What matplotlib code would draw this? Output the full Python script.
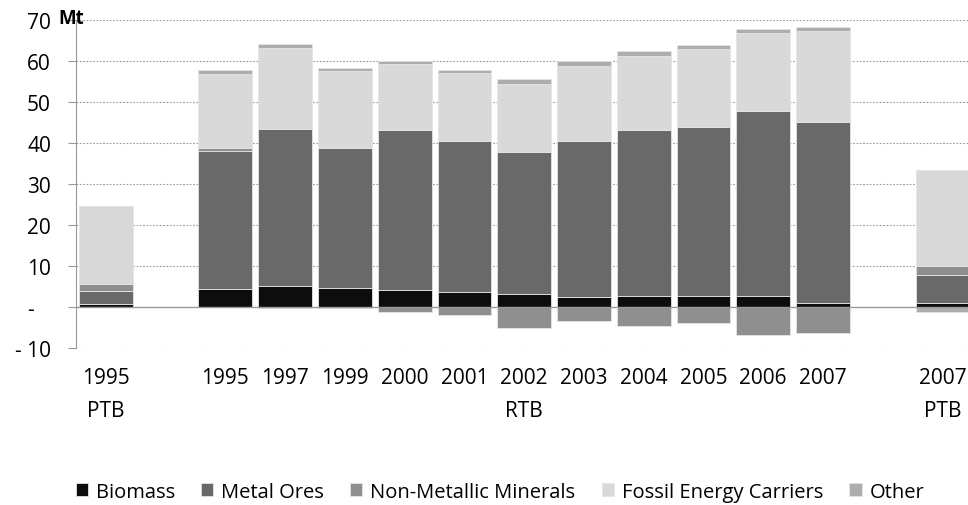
import matplotlib.pyplot as plt
import numpy as np

plt.rcParams['font.family'] = ['Open Sans', 'DejaVu Sans']

# Category layout: PTB 1995, RTB 1995-2007, PTB 2007 (gaps between groups)
positions = [0, 2, 3, 4, 5, 6, 7, 8, 9, 10, 11, 12, 14]
tick_labels = ['1995\nPTB', '1995', '1997', '1999', '2000', '2001', '2002\nRTB',
               '2003', '2004', '2005', '2006', '2007', '2007\nPTB']

series = ['Biomass', 'Metal Ores', 'Non-Metallic Minerals', 'Fossil Energy Carriers', 'Other']
colors = ['#0d0d0d', '#696969', '#8f8f8f', '#d9d9d9', '#adadad']

biomass = [0.7, 4.4, 5.2, 4.6, 4.1, 3.6, 3.1, 2.4, 2.8, 2.7, 2.7, 1.0, 0.9]
metal_ores = [3.1, 33.7, 38.1, 34.3, 39.0, 36.8, 34.8, 38.0, 40.4, 41.3, 45.2, 44.0, 7.0]
non_metallic = [1.8, 0.6, -0.2, -0.2, -1.3, -2.0, -5.1, -3.4, -4.6, -3.9, -6.8, -6.4, 2.2]
fossil = [19.1, 18.1, 19.9, 18.7, 16.1, 16.7, 16.6, 18.3, 18.1, 18.9, 18.9, 22.2, 23.3]
other = [0.0, 0.9, 0.9, 0.8, 0.9, 0.8, 1.0, 1.2, 1.1, 1.1, 1.1, 1.2, -1.3]

data = [biomass, metal_ores, non_metallic, fossil, other]

fig = plt.figure(figsize=(9.68, 5.06), dpi=100)
ax = fig.add_axes([0.0785, 0.3103, 0.926, 0.6482])

pos_bottom = np.zeros(len(positions))
neg_bottom = np.zeros(len(positions))
for name, vals, c in zip(series, data, colors):
    vals = np.array(vals)
    bottom = np.where(vals >= 0, pos_bottom, neg_bottom)
    ax.bar(positions, vals, bottom=bottom, width=0.9, color=c, label=name,
           edgecolor='#e4e4e4', linewidth=0.6, zorder=3)
    pos_bottom += np.where(vals >= 0, vals, 0)
    neg_bottom += np.where(vals < 0, vals, 0)

ax.set_xlim(-0.5, 14.5)
ax.set_ylim(-10, 70)
yt = np.arange(-10, 71, 10)
ax.set_yticks(yt)
ax.set_yticklabels(['- 10', '-   '] + [str(v) for v in yt[2:]], fontsize=15)
for v in yt:
    if v != 0:
        ax.axhline(v, color='#999999', lw=0.8, ls=(0, (1.5, 1.5)), zorder=1)
ax.axhline(0, color='#999999', lw=1.0, zorder=4)

ax.set_xticks(positions)
ax.set_xticklabels(tick_labels, fontsize=15, linespacing=1.72)
ax.tick_params(axis='x', length=0, pad=14)
ax.tick_params(axis='y', length=6, color='#999999', pad=12)

for s in ['top', 'right', 'bottom']:
    ax.spines[s].set_visible(False)
ax.spines['left'].set_color('#999999')

fig.text(0.0599, 0.9526, 'Mt', fontsize=13.5, fontweight='bold', va='baseline', ha='left')

fig.legend(loc='center', bbox_to_anchor=(0.5165, 0.026), ncol=5, frameon=False,
           fontsize=14.5, handlelength=0.6, handleheight=0.6, handletextpad=0.4,
           columnspacing=1.3)

fig.savefig('out.png', dpi=100)
